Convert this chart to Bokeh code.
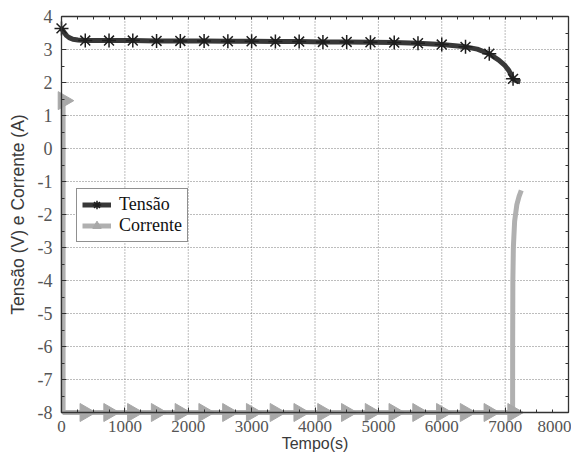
import numpy as np
from bokeh.plotting import figure
from bokeh.models import (ColumnDataSource, LinearAxis, Range1d, Legend, LegendItem,
                          FixedTicker)
from bokeh.embed import file_html
from bokeh.resources import INLINE

# ---- data ----
t_v = [0, 40, 80, 120, 180, 260, 375, 750, 1125, 1500, 1875, 2250, 2625, 3000,
       3375, 3750, 4125, 4500, 4875, 5250, 5625, 6000, 6375, 6560, 6750, 6900,
       7000, 7060, 7125, 7180, 7240]
tensao = [3.64, 3.52, 3.42, 3.36, 3.31, 3.29, 3.27, 3.27, 3.27, 3.26, 3.26, 3.26,
          3.25, 3.25, 3.24, 3.24, 3.23, 3.23, 3.22, 3.21, 3.19, 3.15, 3.08, 3.01,
          2.87, 2.68, 2.51, 2.36, 2.11, 2.05, 2.02]

t_i = [25, 25, 7118, 7119, 7122, 7130, 7150, 7185, 7220, 7255]
corrente = [1.55, -8.0, -8.0, -6.0, -4.0, -3.0, -2.2, -1.7, -1.45, -1.27]

mark_t = [0, 375, 750, 1125, 1500, 1875, 2250, 2625, 3000, 3375, 3750, 4125,
          4500, 4875, 5250, 5625, 6000, 6375, 6750, 7125]
mark_tensao = [3.64, 3.27, 3.27, 3.27, 3.26, 3.26, 3.26, 3.25, 3.25, 3.24, 3.24,
               3.23, 3.23, 3.22, 3.21, 3.19, 3.15, 3.08, 2.87, 2.11]
mark_t_i = [30, 375, 750, 1125, 1500, 1875, 2250, 2625, 3000, 3375, 3750, 4125,
            4500, 4875, 5250, 5625, 6000, 6375, 6750, 7125]
mark_corrente = [1.45, -8, -8, -8, -8, -8, -8, -8, -8, -8, -8, -8, -8, -8, -8, -8,
                 -8, -8, -8, -8]

X_MIN, X_MAX = 0, 8000
Y_MIN, Y_MAX = -8, 4
x_ticks = [0, 1000, 2000, 3000, 4000, 5000, 6000, 7000, 8000]
y_ticks = [4, 3, 2, 1, 0, -1, -2, -3, -4, -5, -6, -7, -8]
x_minor = list(np.arange(X_MIN, X_MAX + 1, 250))
y_minor = list(np.arange(Y_MIN, Y_MAX + 0.01, 0.5))

SERIF = "Liberation Serif"
SANS = "Liberation Sans"

W, H = 571, 454
# the axes box sits at px 61..568 (x) and 16..412 (y); the plotting frame covers
# the whole canvas so that markers on the axes and the labels are never cut
PX_X = (X_MAX - X_MIN) / 507.0
PX_Y = (Y_MAX - Y_MIN) / 396.0
x_range = Range1d(X_MIN - 61 * PX_X, X_MAX + (W - 568) * PX_X)
y_range = Range1d(Y_MIN - (H - 412) * PX_Y, Y_MAX + 16 * PX_Y)

p = figure(width=W, height=H, output_backend="svg", toolbar_location=None,
           x_range=x_range, y_range=y_range,
           min_border_left=0, min_border_right=0, min_border_top=0,
           min_border_bottom=0)
p.outline_line_color = None
p.background_fill_color = "white"
p.border_fill_color = "white"
p.xgrid.visible = False
p.ygrid.visible = False

# grid (dotted), inside the axes box only
gx = [t for t in x_ticks if X_MIN < t < X_MAX]
gy = [t for t in y_ticks if Y_MIN < t < Y_MAX]
p.segment(x0=gx, y0=[Y_MIN] * len(gx), x1=gx, y1=[Y_MAX] * len(gx),
          line_color="#7a7a7a", line_dash="1 2", line_width=1)
p.segment(x0=[X_MIN] * len(gy), y0=gy, x1=[X_MAX] * len(gy), y1=gy,
          line_color="#7a7a7a", line_dash="1 2", line_width=1)


def style_axis(ax):
    ax.axis_line_color = "#333333"
    ax.axis_line_width = 1.3
    ax.major_tick_in = 5
    ax.major_tick_out = 0
    ax.minor_tick_in = 3
    ax.minor_tick_out = 0
    ax.major_tick_line_color = "#333333"
    ax.minor_tick_line_color = "#333333"
    ax.major_label_text_font = SERIF
    ax.major_label_text_font_size = "18px"
    ax.major_label_text_color = "#555555"
    ax.axis_label_text_font = SANS
    ax.axis_label_text_font_style = "normal"
    ax.axis_label_text_font_size = "17.5px"
    ax.axis_label_text_color = "#3a3a3a"


xa = p.xaxis[0]
ya = p.yaxis[0]
xa.ticker = FixedTicker(ticks=x_ticks, minor_ticks=x_minor)
ya.ticker = FixedTicker(ticks=y_ticks, minor_ticks=y_minor)
style_axis(xa)
style_axis(ya)
xa.fixed_location = Y_MIN
ya.fixed_location = X_MIN
xa.bounds = (X_MIN, X_MAX)
ya.bounds = (Y_MIN, Y_MAX)
xa.axis_label = "Tempo(s)"
ya.axis_label = "Tensão (V) e Corrente (A)"
xa.major_label_text_font_size = "17px"
xa.axis_label_text_font_size = "16px"
xa.major_label_standoff = 8
xa.axis_label_standoff = 0
ya.major_label_standoff = 9
ya.axis_label_standoff = 7
ya.major_label_overrides = {t: (("-" + str(abs(t))) if t < 0 else str(t)) for t in y_ticks}

# top and right frame lines with inward ticks (no labels)
ax_top = LinearAxis(ticker=FixedTicker(ticks=[], minor_ticks=x_minor))
ax_right = LinearAxis(ticker=FixedTicker(ticks=[], minor_ticks=y_minor))
for a in (ax_top, ax_right):
    style_axis(a)
    a.major_label_standoff = 0
ax_top.bounds = (X_MIN, X_MAX)
ax_right.bounds = (Y_MIN, Y_MAX)
ax_top.fixed_location = Y_MAX
ax_right.fixed_location = X_MAX
p.add_layout(ax_top, "above")
p.add_layout(ax_right, "right")

# series
src_v = ColumnDataSource(dict(t=t_v, v=tensao))
src_i = ColumnDataSource(dict(t=t_i, i=corrente))
src_mv = ColumnDataSource(dict(t=mark_t, v=mark_tensao))
src_mi = ColumnDataSource(dict(t=mark_t_i, i=mark_corrente))

r_il = p.line("t", "i", source=src_i, line_color="#b0b0b0", line_width=5)
r_im = p.scatter("t", "i", source=src_mi, marker="triangle", angle=-np.pi / 2,
                 size=18, fill_color="#a8a8a8", line_color="#a8a8a8")
r_vl = p.line("t", "v", source=src_v, line_color="#383838", line_width=5)
r_vm = p.scatter("t", "v", source=src_mv, marker="asterisk", size=14,
                 line_color="#1e1e1e", line_width=1.5)

legend = Legend(items=[LegendItem(label="Tensão", renderers=[r_vl, r_vm]),
                       LegendItem(label="Corrente", renderers=[r_il, r_im])],
                location=(76, 212))
legend.label_text_font = SERIF
legend.label_text_font_size = "18px"
legend.label_text_color = "#111111"
legend.border_line_color = "#222222"
legend.border_line_width = 1.5
legend.background_fill_alpha = 1
legend.glyph_width = 29
legend.glyph_height = 21
legend.label_height = 21
legend.label_standoff = 8
legend.spacing = 0
legend.padding = 5
legend.margin = 0
p.add_layout(legend, "center")

open("out.html", "w").write(file_html(p, INLINE))
